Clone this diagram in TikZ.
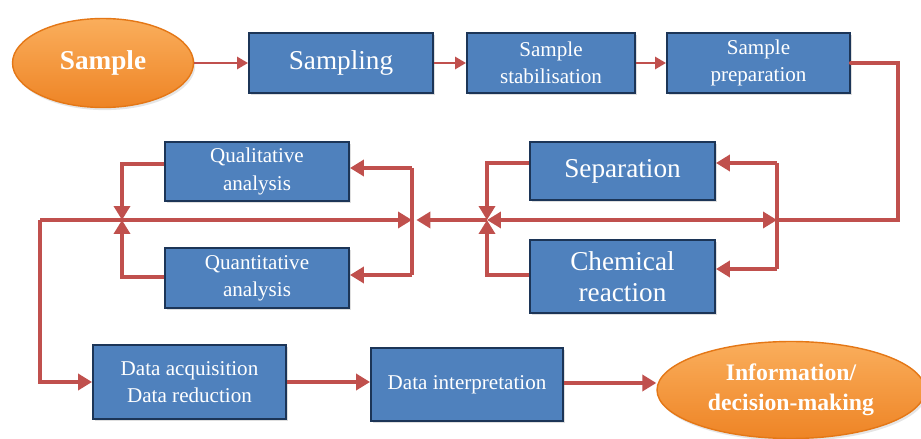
\documentclass[tikz,border=0pt]{standalone}
\usepackage{fontspec}
\setmainfont{Liberation Serif}
\usetikzlibrary{arrows.meta, shapes.geometric, shadows}
\definecolor{BoxFill}{HTML}{4F81BD}
\definecolor{BoxLine}{HTML}{1C3557}
\definecolor{Flow}{HTML}{C0504D}
\definecolor{OrangeTop}{HTML}{FAAE5C}
\definecolor{OrangeBot}{HTML}{EE8425}
\definecolor{OrangeLine}{HTML}{E47716}

\begin{document}
\begin{tikzpicture}[
  x=0.02cm, y=-0.02cm,
  stepbox/.style={
    draw=BoxLine,
    line width=1.1pt,
    fill=BoxFill,
    align=center,
    text=white,
    inner sep=2pt,
    font=\fontsize{12}{15.5}\selectfont,
    drop shadow={opacity=0.25, shadow xshift=1pt, shadow yshift=-1pt}
  },
  bigtext/.style={font=\fontsize{15.5}{18}\selectfont},
  terminal/.style={
    ellipse,
    draw=OrangeLine,
    line width=0.8pt,
    top color=OrangeTop,
    bottom color=OrangeBot,
    align=center,
    text=white,
    inner sep=0pt,
    font=\bfseries\fontsize{13.5}{17}\selectfont,
    drop shadow={opacity=0.2, shadow xshift=1pt, shadow yshift=-1.5pt}
  },
  thin arrow/.style={
    -{Triangle[length=2.2mm,width=2.4mm]},
    line width=1.6pt,
    draw=Flow
  },
  arrow/.style={
    -{Triangle[length=2.8mm,width=3.2mm]},
    line width=2.3pt,
    draw=Flow
  },
  flow/.style={
    line width=2.3pt,
    draw=Flow
  }
]

\clip (0,0) rectangle (921,439);
\fill[white] (0,0) rectangle (921,439);

% top row
\node[terminal, minimum width=3.62cm, minimum height=1.78cm] (sample) at (103,63)
  {\fontsize{15.5}{18}\selectfont Sample};
\node[stepbox, bigtext, minimum width=3.68cm, minimum height=1.2cm] (sampling) at (341,63)
  {Sampling};
\node[stepbox, minimum width=3.36cm, minimum height=1.2cm] (stab) at (551,63)
  {Sample\\stabilisation};
\node[stepbox, minimum width=3.66cm, minimum height=1.2cm] (prep) at (758.5,63)
  {Sample\\preparation};

\draw[thin arrow] (sample) -- (sampling);
\draw[thin arrow] (sampling) -- (stab);
\draw[thin arrow] (stab) -- (prep);

% middle row
\node[stepbox, bigtext, minimum width=3.7cm, minimum height=1.16cm] (sep) at (622.5,171)
  {Separation};
\node[stepbox, bigtext, minimum width=3.7cm, minimum height=1.46cm] (chem) at (622.5,276.5)
  {Chemical\\reaction};
\node[stepbox, minimum width=3.68cm, minimum height=1.18cm] (qual) at (257,171.5)
  {Qualitative\\analysis};
\node[stepbox, minimum width=3.68cm, minimum height=1.2cm] (quant) at (257,278)
  {Quantitative\\analysis};

\coordinate (jright) at (777,220);
\coordinate (jsep) at (487,220);
\coordinate (jana) at (412,220);
\coordinate (jqual) at (122,220);
\coordinate (corner) at (40,220);

\draw[flow, line cap=round] (prep.east) -- (898,63) |- (jright);
\draw[flow] (777,163) -- (777,269);
\draw[arrow] (777,163) -- (sep.east |- 0,163);
\draw[arrow] (777,269) -- (chem.east |- 0,269);
\draw[arrow, {Triangle[length=2.8mm,width=3.2mm]}-{Triangle[length=2.8mm,width=3.2mm]}]
  (jsep) -- (jright);

\draw[arrow] (sep.west |- 0,163) -| (jsep);
\draw[arrow] (chem.west |- 0,275) -| (jsep);
\draw[arrow, shorten >=2.5pt] (jsep) -- (jana);

\draw[flow] (412,168) -- (412,275);
\draw[arrow] (412,168) -- (qual.east |- 0,168);
\draw[arrow] (412,275) -- (quant.east |- 0,275);

\draw[arrow] (qual.west |- 0,164) -| (jqual);
\draw[arrow] (quant.west |- 0,277) -| (jqual);
\draw[arrow] (corner) -- (jana);

% bottom row
\node[stepbox, minimum width=3.86cm, minimum height=1.48cm] (acq) at (189.5,382)
  {Data acquisition\\Data reduction};
\node[stepbox, minimum width=3.84cm, minimum height=1.46cm] (interp) at (467,384.5)
  {Data interpretation};
\node[terminal, minimum width=5.36cm, minimum height=1.94cm] (info) at (791,390)
  {Information/\\decision-making};

\draw[arrow] (corner) |- (acq);
\draw[arrow] (acq.east |- 0,382) -- (interp.west |- 0,382);
\draw[arrow] (interp.east |- 0,383) -- (info.west |- 0,383);

\end{tikzpicture}
\end{document}
